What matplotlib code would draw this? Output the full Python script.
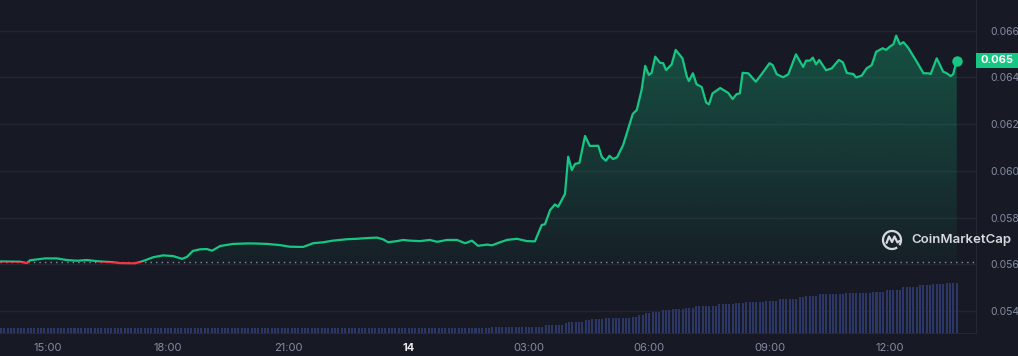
import numpy as np
import matplotlib
matplotlib.use("Agg")
import matplotlib.pyplot as plt
from matplotlib.patches import Rectangle, Arc

plt.rcParams['font.family'] = ['Inter', 'DejaVu Sans']

# price, hours counted from 00:00 of the 13th
hours = [13.81, 14.31, 14.48, 14.56, 14.93, 15.23, 15.48, 15.73, 15.98, 16.30,
         16.60, 16.80, 17.18, 17.35, 17.63, 17.88, 18.13, 18.35, 18.47, 18.62,
         18.80, 18.97, 19.10, 19.30, 19.62, 19.97, 20.12, 20.47, 20.79, 21.04,
         21.37, 21.62, 21.87, 22.11, 22.46, 22.71, 22.96, 23.21, 23.36, 23.49,
         23.71, 23.86, 24.03, 24.28, 24.53, 24.71, 24.96, 25.21, 25.41, 25.58,
         25.73, 25.96, 26.08, 26.28, 26.45, 26.70, 26.95, 27.15, 27.32, 27.40,
         27.53, 27.65, 27.73, 27.90, 27.98, 28.07, 28.15, 28.26, 28.40, 28.52,
         28.73, 28.82, 28.92, 29.01, 29.10, 29.20, 29.35, 29.48, 29.59, 29.69,
         29.81, 29.90, 29.99, 30.06, 30.15, 30.27, 30.35, 30.42, 30.56, 30.66,
         30.83, 30.94, 30.99, 31.09, 31.18, 31.31, 31.42, 31.49, 31.58, 31.77,
         31.97, 32.08, 32.18, 32.26, 32.33, 32.47, 32.66, 32.85, 33.00, 33.08,
         33.18, 33.34, 33.47, 33.66, 33.84, 33.91, 34.01, 34.08, 34.16, 34.24,
         34.41, 34.55, 34.73, 34.83, 34.93, 35.09, 35.16, 35.30, 35.42, 35.55,
         35.66, 35.82, 35.91, 36.00, 36.09, 36.16, 36.25, 36.34, 36.46, 36.67,
         36.84, 36.96, 37.02, 37.17, 37.33, 37.42, 37.52, 37.58, 37.67]
price = [0.05612, 0.05611, 0.05605, 0.05617, 0.05625, 0.05625, 0.05618, 0.05615, 0.05618, 0.05612,
         0.05609, 0.05605, 0.05604, 0.05612, 0.05630, 0.05638, 0.05635, 0.05623, 0.05631, 0.05657,
         0.05664, 0.05665, 0.05658, 0.05678, 0.05687, 0.05689, 0.05689, 0.05687, 0.05682, 0.05675,
         0.05674, 0.05690, 0.05694, 0.05701, 0.05707, 0.05709, 0.05712, 0.05714, 0.05707, 0.05694,
         0.05699, 0.05704, 0.05701, 0.05699, 0.05704, 0.05696, 0.05704, 0.05704, 0.05690, 0.05701,
         0.05679, 0.05684, 0.05681, 0.05694, 0.05704, 0.05709, 0.05699, 0.05698, 0.05768, 0.05771,
         0.05832, 0.05856, 0.05846, 0.05901, 0.06060, 0.06003, 0.06029, 0.06034, 0.06149, 0.06106,
         0.06107, 0.06058, 0.06043, 0.06064, 0.06050, 0.06058, 0.06110, 0.06182, 0.06243, 0.06260,
         0.06345, 0.06449, 0.06410, 0.06419, 0.06488, 0.06462, 0.06460, 0.06431, 0.06455, 0.06517,
         0.06481, 0.06402, 0.06384, 0.06417, 0.06370, 0.06358, 0.06292, 0.06284, 0.06331, 0.06354,
         0.06333, 0.06307, 0.06328, 0.06331, 0.06419, 0.06417, 0.06381, 0.06424, 0.06460, 0.06452,
         0.06413, 0.06400, 0.06413, 0.06498, 0.06444, 0.06471, 0.06471, 0.06484, 0.06455, 0.06474,
         0.06430, 0.06438, 0.06474, 0.06464, 0.06418, 0.06414, 0.06399, 0.06407, 0.06438, 0.06452,
         0.06509, 0.06524, 0.06517, 0.06531, 0.06541, 0.06578, 0.06541, 0.06550, 0.06526, 0.06467,
         0.06417, 0.06417, 0.06414, 0.06481, 0.06424, 0.06417, 0.06405, 0.06413, 0.06471]
open_price = 0.05609

# 5-minute volume bars, written as runs of equal bars (count, volume in M)
vol_runs = [(147, 0.55), (16, 0.66), (6, 0.83), (1, 1.00), (5, 1.16), (2, 1.33),
            (4, 1.43), (8, 1.56), (2, 1.66), (2, 1.83), (2, 2.00), (3, 2.10),
            (3, 2.33), (4, 2.43), (3, 2.56), (7, 2.73), (5, 2.90), (3, 3.00),
            (6, 3.10), (4, 3.26), (6, 3.43), (2, 3.60), (4, 3.76), (8, 3.90),
            (8, 4.00), (4, 4.13), (5, 4.33), (5, 4.66), (4, 4.83), (4, 4.90),
            (4, 5.00)]

tick_hours = [15, 18, 21, 24, 27, 30, 33, 36]
tick_labels = ['15:00', '18:00', '21:00', '14', '03:00', '06:00', '09:00', '12:00']
price_ticks = [0.054, 0.056, 0.058, 0.060, 0.062, 0.064, 0.066]
last_label = '0.065'

BG = '#171924'
GREEN = '#16c784'
RED = '#ea3943'
GRID = '#222532'
TXT = '#858ca2'

W, H = 1018, 356
fig = plt.figure(figsize=(W / 100, H / 100), dpi=100, facecolor=BG)
ax = fig.add_axes([0, 22.7 / H, 976 / W, 333.3 / H])
ax.set_facecolor(BG)

x0, x1 = 13.8105, 38.1496
y0, y1 = 0.053046, 0.067305

hours = np.array(hours)
price = np.array(price)

# volume on a twin axis (twinx resets the tick side, so it comes first)
vol = []
for n, v in vol_runs:
    vol += [v] * n
vol_t = hours[0] + np.arange(len(vol)) * 5 / 60
ax2 = ax.twinx()
ax2.bar(vol_t, vol, width=0.6 * 5 / 60, color='#2d3765', align='edge', lw=0)
ax2.set_ylim(0, 5.0 * 333.3 / 50)
ax2.set_xlim(x0, x1)
ax2.axis('off')

# gradient fill under the line, down to the opening price
fill = ax.fill_between(hours, price, open_price, color='none', lw=0)
grad = np.zeros((256, 1, 4))
grad[:, 0, 0] = 22 / 255
grad[:, 0, 1] = 199 / 255
grad[:, 0, 2] = 132 / 255
grad[:, 0, 3] = np.linspace(0.04, 0.33, 256)
im = ax.imshow(grad, extent=[x0, x1, open_price, 0.066], aspect='auto',
               origin='lower', zorder=2)
im.set_clip_path(fill.get_paths()[0], transform=ax.transData)

# line, green above the open price and red below it
up = ax.plot(hours, price, color=GREEN, lw=1.6, zorder=4, solid_capstyle='round')[0]
dn = ax.plot(hours, price, color=RED, lw=1.6, zorder=4, solid_capstyle='round')[0]
up.set_clip_path(Rectangle((x0, open_price), x1 - x0, y1 - open_price, transform=ax.transData))
dn.set_clip_path(Rectangle((x0, y0), x1 - x0, open_price - y0, transform=ax.transData))
ax.plot(hours[-1], price[-1], 'o', color=GREEN, ms=6.5, zorder=5)

ax.axhline(open_price, color='#8a90a0', lw=1.0, ls=(0, (1, 3)), zorder=3)

ax.set_xlim(x0, x1)
ax.set_ylim(y0, y1)
ax.set_yticks(price_ticks)
ax.set_yticklabels(['%.3f' % p for p in price_ticks])
ax.yaxis.tick_right()
ax.tick_params(axis='y', length=0, pad=10, labelsize=7.5, labelcolor=TXT)
ax.grid(axis='y', color=GRID, lw=1)
ax.set_xticks(tick_hours)
ax.set_xticklabels(tick_labels)
ax.tick_params(axis='x', length=0, pad=7, labelsize=8, labelcolor=TXT)
for lab in ax.get_xticklabels():
    if lab.get_text() == '14':
        lab.set_color('#e6e8ee')
        lab.set_fontweight('bold')
for s in ['top', 'left']:
    ax.spines[s].set_visible(False)
ax.spines['right'].set_color('#252836')
ax.spines['bottom'].set_color('#252836')

# price tag
fig.add_artist(Rectangle((975.7 / W, 1 - 67.6 / H), 42.3 / W, 14.6 / H,
                         transform=fig.transFigure, fc=GREEN, ec='none'))
fig.text(997 / W, 1 - 60.3 / H, last_label, ha='center', va='center', fontsize=8,
         color='white', fontweight='bold')

# watermark
fig.text(911 / W, 1 - 240 / H, 'CoinMarketCap', ha='left', va='center',
         fontsize=9.5, color='#d6d8de', fontweight='semibold')
lax = fig.add_axes([881 / W, 1 - 251 / H, 22 / W, 22 / H])
lax.set_xlim(-1.1, 1.1)
lax.set_ylim(-1.1, 1.1)
lax.axis('off')
lax.add_patch(Arc((0, 0), 1.8, 1.8, theta1=-35, theta2=305, color='#d6d8de', lw=1.6))
lax.plot([-0.55, -0.3, 0.0, 0.25, 0.55, 0.75], [-0.3, 0.35, -0.2, 0.35, -0.25, -0.1],
         color='#d6d8de', lw=1.6, solid_capstyle='round')

fig.savefig('out.png', dpi=100, facecolor=BG)
